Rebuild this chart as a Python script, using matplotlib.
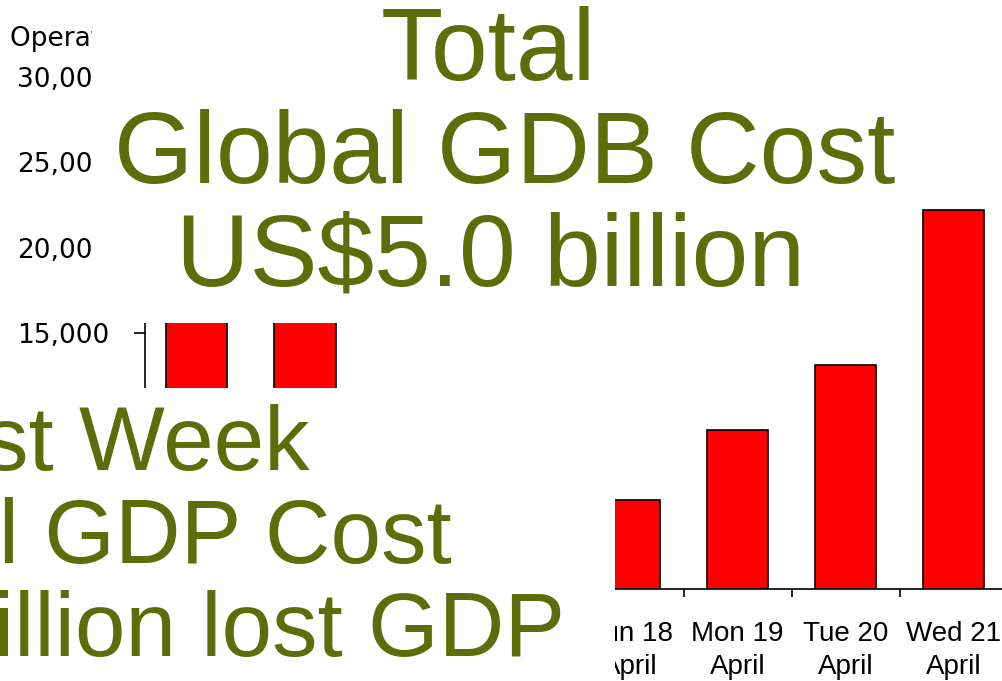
import numpy as np
import matplotlib
matplotlib.use("Agg")
import matplotlib.pyplot as plt
from matplotlib.patches import Rectangle
from matplotlib.ticker import FuncFormatter

plt.rcParams["font.family"] = ["Liberation Sans", "DejaVu Sans"]

# Operational flights per day
days = ["Wed 14\nApril", "Thu 15\nApril", "Fri 16\nApril", "Sat 17\nApril",
        "Sun 18\nApril", "Mon 19\nApril", "Tue 20\nApril", "Wed 21\nApril"]
flights = [28100, 20800, 10400, 5300, 5200, 9300, 13100, 22200]
y_ticks = [0, 5000, 10000, 15000, 20000, 25000, 30000]
y_title = "Operational flights"

title_lines = ["Total", "Global GDB Cost", "US$5.0 billion"]
week_lines = ["First Week", "Global GDP Cost", "US$4.7 billion lost GDP"]

W, H = 1002, 681
OLIVE = "#5F6C0A"


def fx(px):
    return px / W


def fy(py):
    return 1 - py / H


fig = plt.figure(figsize=(W / 100, H / 100), dpi=100)

# chart area: unit per category ~108 px, 5,000 flights ~85 px
unit = 108.14
x0 = -0.48
x1 = 8.5
ax = fig.add_axes([fx(145), fy(589), (x1 - x0) * unit / W, (589 - 77) / H])

x = np.arange(len(days))
ax.bar(x, flights, width=0.565, color="#FF0000", edgecolor="black",
       linewidth=1.2, zorder=2)
ax.set_xlim(x0, x1)
ax.set_ylim(0, 30000)

ax.spines["top"].set_visible(False)
ax.spines["right"].set_visible(False)
for s in ("left", "bottom"):
    ax.spines[s].set_linewidth(1.2)

ax.set_yticks(y_ticks)
ax.yaxis.set_major_formatter(FuncFormatter(lambda v, p: f"{int(v):,}"))
ax.tick_params(axis="y", length=8, width=1.2, pad=18)
for lab in ax.get_yticklabels():
    lab.set_fontfamily("DejaVu Sans")
    lab.set_fontsize(19)

ax.set_xticks(x)
ax.set_xticklabels(days, linespacing=1.35)
ax.set_xticks(x + 0.5, minor=True)
ax.tick_params(axis="x", which="major", length=0, pad=23, labelsize=20)
ax.tick_params(axis="x", which="minor", length=6, width=1.2)

fig.text(fx(10), fy(39), y_title, fontsize=19, family="DejaVu Sans",
         ha="left", va="center")

# headline panel
fig.add_artist(Rectangle((fx(92), fy(323)), fx(915 - 92), 323 / H,
                         transform=fig.transFigure, facecolor="white",
                         edgecolor="none", zorder=10))
for line, cx, base in zip(title_lines, [488, 505, 490], [80, 183, 286]):
    fig.text(fx(cx), fy(base), line, fontsize=73.4, color=OLIVE,
             ha="center", va="baseline", zorder=11)

# first-week panel
fig.add_artist(Rectangle((0, 0), fx(615), (H - 388) / H,
                         transform=fig.transFigure, facecolor="white",
                         edgecolor="none", zorder=10))
for line, rx, base in zip(week_lines, [310, 452, 565], [470, 563, 656]):
    fig.text(fx(rx), fy(base), line, fontsize=65.4, color=OLIVE,
             ha="right", va="baseline", zorder=11)

fig.savefig("out.png", dpi=100)
